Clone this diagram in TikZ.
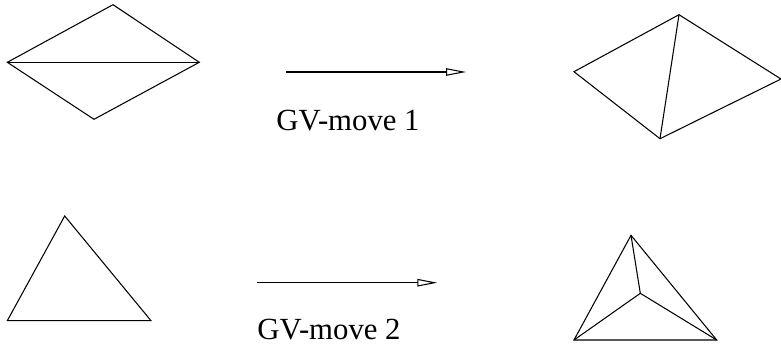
\documentclass[tikz,border=0pt]{standalone}
\usepackage{fontspec}
\setmainfont{Liberation Serif}
\usetikzlibrary{arrows.meta}

\begin{document}
\begin{tikzpicture}[x=0.02cm, y=-0.02cm, line width=0.6pt, >={Triangle[open, length=0.4cm, width=0.15cm]}, every node/.style={font=\fontsize{17.5}{21}\selectfont, inner sep=0pt}]
  \useasboundingbox (0,0) rectangle (781,345);
  % move 1: two triangles sharing the long diagonal
  \coordinate (ql) at (7.3,62.3);
  \coordinate (qt) at (113,4.7);
  \coordinate (qr) at (199.3,62.3);
  \coordinate (qb) at (94,119.3);
  \draw (ql) -- (qt) -- (qr) -- (qb) -- cycle;
  \draw (ql) -- (qr);
  \coordinate (pl) at (574,71.7);
  \coordinate (pt) at (679,14.7);
  \coordinate (pr) at (781,79);
  \coordinate (pb) at (660,138.7);
  \draw (pl) -- (pt) -- (pr) -- (pb) -- cycle;
  \draw (pt) -- (pb);
  \coordinate (ma) at (286,72);
  \coordinate (mb) at (466,72);
  \draw[->] (ma) -- (mb);
  \node (gv1) at (348,121) {GV-move 1};
  % move 2: triangle split at an inner point
  \coordinate (tt) at (64.7,216);
  \coordinate (tl) at (7.3,320.7);
  \coordinate (tr) at (151,320.7);
  \draw (tt) -- (tr) -- (tl) -- cycle;
  \coordinate (st) at (631,235.3);
  \coordinate (sl) at (574,340);
  \coordinate (sr) at (716.7,340);
  \coordinate (sc) at (640.3,293.3);
  \draw (st) -- (sr) -- (sl) -- cycle;
  \draw (st) -- (sc) (sl) -- (sc) (sr) -- (sc);
  \coordinate (na) at (257.3,282.7);
  \coordinate (nb) at (437.3,282.7);
  \draw[->] (na) -- (nb);
  \node (gv2) at (329,330) {GV-move 2};
\end{tikzpicture}
\end{document}
